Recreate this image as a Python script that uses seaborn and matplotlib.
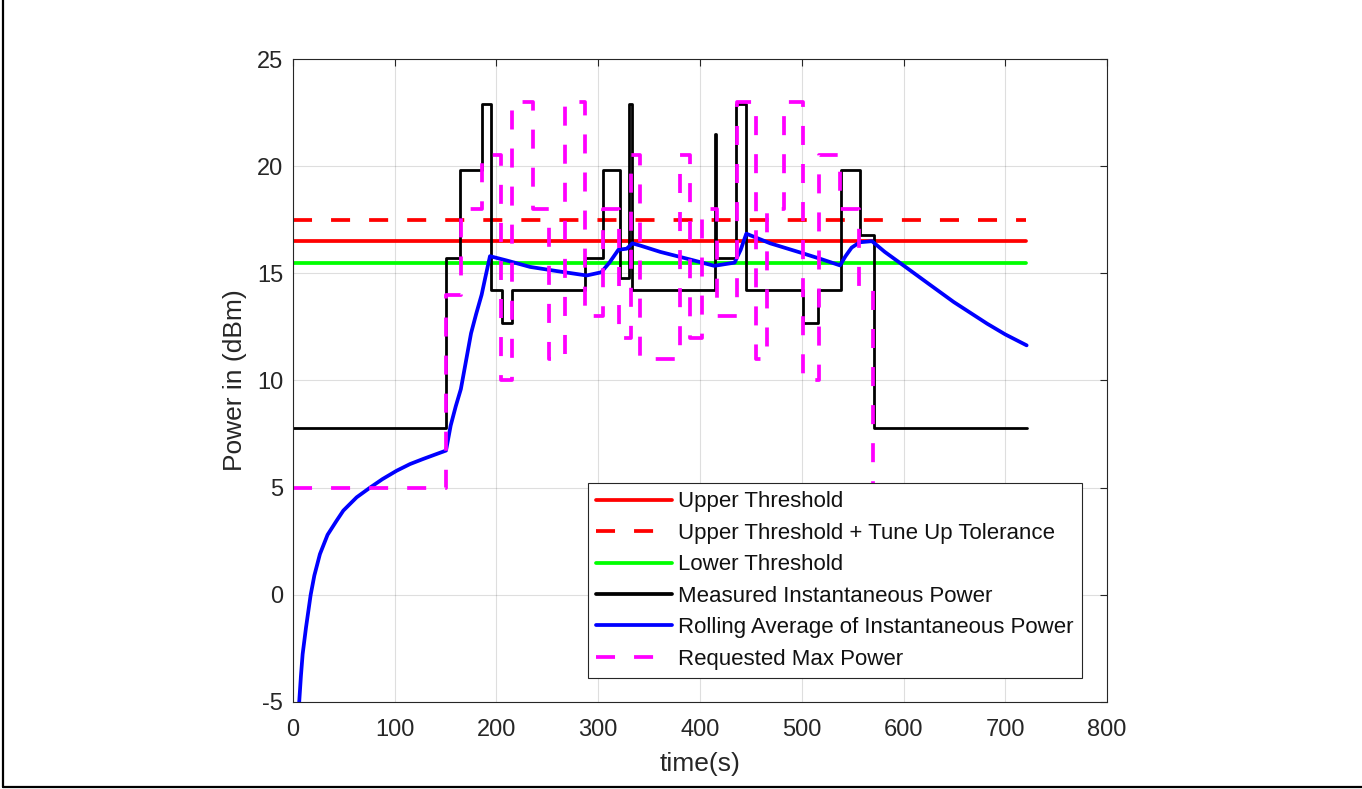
import numpy as np
import pandas as pd
import matplotlib
matplotlib.use("Agg")
import matplotlib.pyplot as plt
import seaborn as sns
from matplotlib.lines import Line2D

# ---------------- data ----------------
upper_threshold = 16.5
upper_tol = 17.5
lower_threshold = 15.5
thr_x = [0, 720]

# Measured instantaneous power (step breakpoints, steps-post)
meas_t = [0, 150.4, 164.6, 185.4, 194.3, 205.0, 215.0, 287.0, 305.0, 321.0,
          330.0, 333.5, 414.5, 415.5, 435.0, 445.5, 501.0, 516.0, 539.0,
          557.0, 571.0, 721.0]
meas_p = [7.8, 15.7, 19.8, 22.9, 14.2, 12.7, 14.2, 15.7, 19.8, 14.8,
          22.9, 14.2, 21.5, 15.7, 22.9, 14.2, 12.7, 14.2, 19.8,
          16.8, 7.8, 7.8]

# Requested max power (step breakpoints, steps-post)
req_t = [0, 150.4, 165.5, 185.4, 204.5, 215.5, 236.0, 252.0, 267.3, 287.0,
         305.0, 320.0, 332.0, 341.5, 380.0, 390.0, 401.6, 416.4, 436.0,
         455.5, 465.5, 482.6, 501.5, 517.0, 537.5, 556.3, 570.4, 720.0]
req_p = [5, 14, 18, 20.5, 10, 23, 18, 11, 23, 13,
         18, 12, 20.5, 11, 20.5, 12, 18, 13, 23,
         11, 18, 23, 10, 20.5, 18, 14.3, 5, 5]

# Rolling average of instantaneous power
avg_t = [4.5, 6.2, 7.8, 9.5, 12.8, 17.4, 21.0, 26.5, 34.0, 42.9, 49.5, 62.6,
         75.7, 88.0, 101.9, 115.0, 128.0, 140.0, 150.4, 155.0, 160.0, 165.0,
         170.0, 175.0, 180.0, 185.4, 189.0, 193.6, 210.0, 233.0, 260.0, 288.6,
         303.0, 311.0, 319.8, 328.0, 333.5, 341.0, 361.0, 390.0, 414.0, 434.0,
         440.0, 445.5, 469.0, 500.0, 520.0, 537.6, 543.0, 549.0, 557.0, 569.0,
         581.6, 601.9, 625.0, 649.4, 682.2, 700.0, 721.0]
avg_p = [-6.5, -4.95, -3.8, -2.77, -1.53, 0.0, 0.9, 1.9, 2.8, 3.46, 3.93, 4.55,
         5.0, 5.4, 5.79, 6.1, 6.34, 6.55, 6.73, 7.9, 8.8, 9.6,
         10.9, 12.2, 13.1, 14.0, 14.8, 15.8, 15.6, 15.3, 15.1, 14.9,
         15.05, 15.5, 16.1, 16.15, 16.4, 16.3, 16.0, 15.65, 15.35, 15.5,
         16.1, 16.85, 16.4, 15.95, 15.65, 15.37, 15.8, 16.2, 16.45, 16.5,
         16.0, 15.3, 14.5, 13.66, 12.65, 12.15, 11.64]

x_ticks = [0, 100, 200, 300, 400, 500, 600, 700, 800]
y_ticks = [-5, 0, 5, 10, 15, 20, 25]

labels = ["Upper Threshold", "Upper Threshold + Tune Up Tolerance",
          "Lower Threshold", "Measured Instantaneous Power",
          "Rolling Average of Instantaneous Power", "Requested Max Power"]

# ---------------- style ----------------
sns.set_theme(style="white")
plt.rcParams['font.family'] = ['Liberation Sans', 'DejaVu Sans']
axc = '#262626'

fig = plt.figure(figsize=(13.62, 7.89), dpi=100)
ax = fig.add_axes([0.2151, 0.1103, 0.5977, 0.8149])

LW = 2.7
DASH = (13.7 / LW, 13.7 / LW)

sns.lineplot(x=thr_x, y=[upper_threshold] * 2, ax=ax, color=(1, 0, 0),
             lw=LW, estimator=None, sort=False, legend=False)
sns.lineplot(x=thr_x, y=[upper_tol] * 2, ax=ax, color=(1, 0, 0),
             lw=LW, dashes=DASH, estimator=None, sort=False, legend=False)
sns.lineplot(x=thr_x, y=[lower_threshold] * 2, ax=ax, color=(0, 1, 0),
             lw=LW, estimator=None, sort=False, legend=False)
sns.lineplot(x=meas_t, y=meas_p, ax=ax, color='black', lw=2.0,
             drawstyle='steps-post', estimator=None, sort=False, legend=False)
sns.lineplot(x=avg_t, y=avg_p, ax=ax, color=(0, 0, 1), lw=LW,
             estimator=None, sort=False, legend=False)
sns.lineplot(x=req_t, y=req_p, ax=ax, color=(1, 0, 1), lw=LW, dashes=DASH,
             drawstyle='steps-post', estimator=None, sort=False, legend=False)

ax.set_xlim(0, 800)
ax.set_ylim(-5, 25)
ax.set_xticks(x_ticks)
ax.set_yticks(y_ticks)
ax.set_xticklabels([str(v) for v in x_ticks])
ax.set_yticklabels([str(v) for v in y_ticks])
ax.grid(True, color='#262626', alpha=0.15, lw=0.8)
ax.set_axisbelow(True)
ax.tick_params(axis='both', direction='in', length=5, width=0.8, colors=axc,
               labelsize=17, top=True, right=True)
ax.tick_params(axis='x', pad=12)
ax.tick_params(axis='y', pad=7)
for s in ax.spines.values():
    s.set_visible(True)
    s.set_color(axc)
    s.set_linewidth(0.8)
ax.set_xlabel("time(s)", fontsize=19, color=axc, labelpad=8)
ax.set_ylabel("Power in (dBm)", fontsize=19, color=axc, labelpad=7)

handles = [
    Line2D([], [], color=(1, 0, 0), lw=LW),
    Line2D([], [], color=(1, 0, 0), lw=LW, dashes=DASH),
    Line2D([], [], color=(0, 1, 0), lw=LW),
    Line2D([], [], color='black', lw=LW),
    Line2D([], [], color=(0, 0, 1), lw=LW),
    Line2D([], [], color=(1, 0, 1), lw=LW, dashes=DASH),
]
leg = ax.legend(handles, labels, loc='upper right',
                bbox_to_anchor=(0.969, 0.3405), borderaxespad=0,
                fontsize=16, handlelength=3.4, handletextpad=0.28,
                labelspacing=0.47, frameon=True, fancybox=False,
                borderpad=0.38, framealpha=1)
leg.set_zorder(10)
leg.get_frame().set_edgecolor(axc)
leg.get_frame().set_linewidth(0.8)
for t in leg.get_texts():
    t.set_color('#111111')

# figure border (left and bottom)
fig.add_artist(Line2D([3 / 1362, 3 / 1362], [1 - 787 / 789, 1], color='black',
                      lw=1.6, transform=fig.transFigure))
fig.add_artist(Line2D([3 / 1362, 1], [1 - 787 / 789, 1 - 787 / 789],
                      color='black', lw=1.6, transform=fig.transFigure))

fig.savefig("out.png", dpi=100)
